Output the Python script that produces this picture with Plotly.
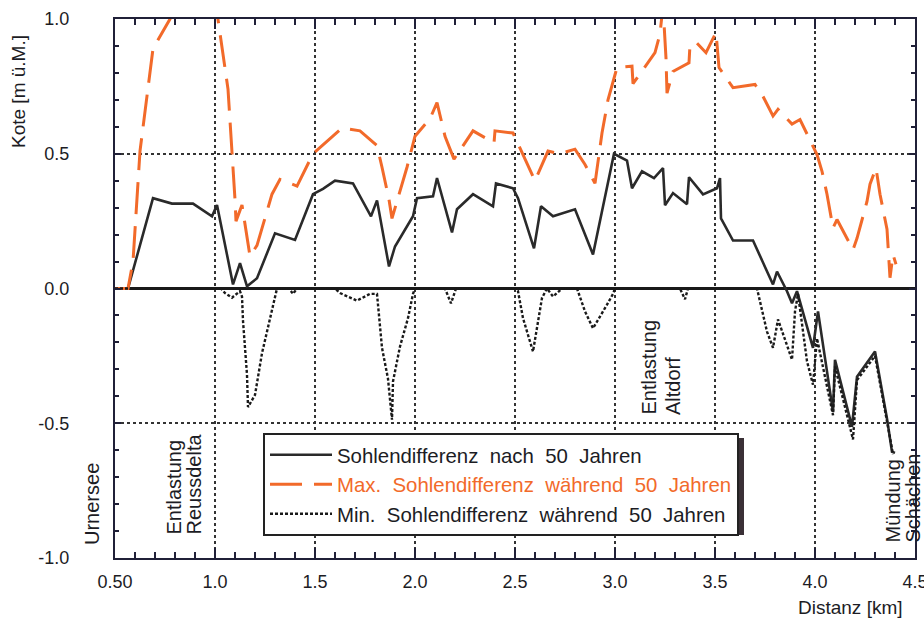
import plotly.graph_objects as go

# ---------------- data ----------------
dist_nach = [0.50, 0.565, 0.69, 0.785, 0.89, 0.985, 1.01, 1.09, 1.125, 1.16, 1.21, 1.30, 1.40,
             1.49, 1.54, 1.60, 1.69, 1.78, 1.81, 1.87, 1.90, 1.99, 2.01, 2.09, 2.11, 2.185,
             2.21, 2.29, 2.39, 2.405, 2.49, 2.515, 2.595, 2.63, 2.69, 2.80, 2.89, 2.96, 2.995,
             3.06, 3.085, 3.135, 3.195, 3.24, 3.25, 3.29, 3.36, 3.37, 3.44, 3.51, 3.525, 3.53,
             3.59, 3.69, 3.79, 3.81, 3.86, 3.885, 3.91, 3.99, 4.015, 4.09, 4.10, 4.185, 4.21,
             4.30, 4.36, 4.385, 4.40]
sohle_nach = [0.0, 0.0, 0.335, 0.315, 0.315, 0.268, 0.31, 0.015, 0.094, 0.008, 0.038, 0.205, 0.18,
              0.35, 0.37, 0.40, 0.39, 0.268, 0.327, 0.082, 0.156, 0.268, 0.335, 0.342, 0.41, 0.208,
              0.294, 0.35, 0.305, 0.39, 0.372, 0.335, 0.149, 0.305, 0.268, 0.294, 0.126, 0.38, 0.50,
              0.475, 0.372, 0.435, 0.41, 0.447, 0.309, 0.354, 0.313, 0.413, 0.349, 0.372, 0.41, 0.26,
              0.178, 0.178, 0.015, 0.063, -0.01, -0.055, -0.01, -0.22, -0.085, -0.457, -0.265, -0.513, -0.327,
              -0.234, -0.483, -0.606, -0.61]

dist_max = [0.50, 0.565, 0.59, 0.625, 0.69, 0.775, 0.85, 0.95, 1.005, 1.065, 1.10, 1.105, 1.135,
            1.16, 1.175, 1.21, 1.285, 1.325, 1.41, 1.49, 1.635, 1.725, 1.81, 1.835, 1.87, 1.885,
            1.935, 1.96, 2.0, 2.075, 2.11, 2.125, 2.15, 2.195, 2.29, 2.395, 2.40, 2.49, 2.565,
            2.60, 2.665, 2.725, 2.80, 2.85, 2.90, 2.935, 2.965, 2.99, 3.01, 3.085, 3.09, 3.20,
            3.225, 3.24, 3.255, 3.26, 3.29, 3.37, 3.375, 3.41, 3.455, 3.505, 3.52, 3.59, 3.70,
            3.735, 3.79, 3.815, 3.885, 3.925, 4.01, 4.035, 4.06, 4.09, 4.11, 4.19, 4.21, 4.26,
            4.275, 4.305, 4.325, 4.36, 4.365, 4.375, 4.39, 4.405]
sohle_max = [0.0, 0.0, 0.10, 0.51, 0.89, 1.0, 1.12, 1.12, 1.05, 0.74, 0.33, 0.25, 0.31,
             0.20, 0.12, 0.16, 0.35, 0.405, 0.38, 0.50, 0.595, 0.585, 0.53, 0.45, 0.33, 0.26,
             0.39, 0.45, 0.565, 0.63, 0.69, 0.645, 0.565, 0.48, 0.585, 0.54, 0.585, 0.577, 0.46,
             0.40, 0.51, 0.50, 0.517, 0.46, 0.39, 0.577, 0.70, 0.77, 0.82, 0.825, 0.76, 0.875,
             0.945, 1.05, 0.855, 0.725, 0.805, 0.837, 0.905, 0.91, 0.875, 0.95, 0.82, 0.745, 0.757,
             0.72, 0.64, 0.665, 0.61, 0.627, 0.497, 0.435, 0.35, 0.224, 0.256, 0.144, 0.186, 0.323,
             0.387, 0.447, 0.35, 0.22, 0.156, 0.04, 0.126, 0.09]

dist_min = [0.50, 1.03, 1.05, 1.085, 1.125, 1.135, 1.14, 1.16, 1.165, 1.20, 1.235, 1.275, 1.30,
            1.31, 1.37, 1.39, 1.41, 1.60, 1.625, 1.71, 1.775, 1.81, 1.835, 1.865, 1.885, 1.89,
            1.925, 1.965, 1.99, 2.0, 2.15, 2.18, 2.205, 2.50, 2.515, 2.54, 2.59, 2.635, 2.66,
            2.69, 2.735, 2.81, 2.85, 2.89, 2.96, 2.99, 3.0, 3.325, 3.35, 3.365, 3.71, 3.76,
            3.79, 3.815, 3.885, 3.90, 3.915, 3.96, 3.99, 4.01, 4.09, 4.10, 4.19, 4.21, 4.30,
            4.36, 4.39]
sohle_min = [0.0, 0.0, -0.017, -0.034, -0.01, -0.03, -0.12, -0.32, -0.44, -0.395, -0.24, -0.11, -0.03,
             0.0, 0.0, -0.02, 0.0, 0.0, -0.017, -0.045, -0.02, -0.02, -0.22, -0.335, -0.487, -0.345,
             -0.215, -0.11, -0.02, 0.0, 0.0, -0.055, 0.0, 0.0, -0.01, -0.11, -0.234, -0.035, 0.0,
             -0.03, 0.0, 0.0, -0.085, -0.148, -0.06, -0.02, 0.0, 0.0, -0.04, 0.0, 0.0, -0.16,
             -0.22, -0.115, -0.264, -0.085, -0.02, -0.27, -0.357, -0.185, -0.47, -0.29, -0.56, -0.34, -0.25,
             -0.50, -0.615]

x_ticks = [0.5, 1.0, 1.5, 2.0, 2.5, 3.0, 3.5, 4.0, 4.5]
x_ticktext = ["0.50", "1.0", "1.5", "2.0", "2.5", "3.0", "3.5", "4.0", "4.5"]
y_ticks = [-1.0, -0.5, 0.0, 0.5, 1.0]
y_ticktext = ["-1.0", "-0.5", "0.0", "0.5", "1.0"]

NB = "\u00a0"
name_nach = f"Sohlendifferenz{NB} nach{NB} 50{NB} Jahren"
name_max = f"<span style='color:#f26a2a'>Max.{NB} Sohlendifferenz{NB} während{NB} 50{NB} Jahren</span>"
name_min = f"Min.{NB} Sohlendifferenz{NB} während{NB} 50{NB} Jahren"

FONT = "Liberation Sans, Arial, sans-serif"
INK = "#1c1c24"
ORANGE = "#f26a2a"

fig = go.Figure()
fig.add_trace(go.Scatter(x=dist_nach, y=sohle_nach, mode="lines", name=name_nach,
                         line=dict(color="#2a2a2a", width=2.6), legendgroup="a"))
fig.add_trace(go.Scatter(x=dist_max, y=sohle_max, mode="lines", name=name_max,
                         line=dict(color=ORANGE, width=3, dash="32px,12px"), legendgroup="b"))
fig.add_trace(go.Scatter(x=dist_min, y=sohle_min, mode="lines", name=name_min,
                         line=dict(color="#1a1a1a", width=2.4, dash="3px,2px"), legendgroup="c"))

L, R, T, B = 115, 9, 19, 60
W, H = 924, 618
pw, ph = W - L - R, H - T - B


def px(xp):
    return (xp - L) / pw


def py(yp):
    return (H - B - yp) / ph


axis_common = dict(showline=True, linecolor="#202038", linewidth=2, mirror="ticks",
                   ticks="inside", tickcolor="#202038", tickwidth=2, automargin=False,
                   showgrid=True, gridcolor="#333333", gridwidth=1.6, griddash="dot",
                   tickfont=dict(family=FONT, size=18, color=INK))

fig.update_xaxes(range=[0.5, 4.5], tickvals=x_ticks, ticktext=x_ticktext, ticklen=10,
                 ticklabelstandoff=6, ticklabeloverflow="allow", zeroline=False,
                 minor=dict(dtick=0.1, tick0=0.5, ticks="inside", ticklen=6,
                            tickcolor="#202038", tickwidth=2, showgrid=False),
                 **axis_common)
fig.update_yaxes(range=[-1.0, 1.0], tickvals=y_ticks, ticktext=y_ticktext, ticklen=6,
                 ticklabelstandoff=40, zeroline=True, zerolinecolor="#1a1a1a", zerolinewidth=2.5,
                 minor=dict(dtick=0.1, tick0=0, ticks="inside", ticklen=4,
                            tickcolor="#202038", tickwidth=2, showgrid=False),
                 **axis_common)

ann_font = dict(family=FONT, size=20, color=INK)
annotations = [
    dict(text="Kote [m ü.M.]", x=px(18), y=py(92), textangle=-90, font=dict(family=FONT, size=19, color=INK),
         xanchor="center", yanchor="middle"),
    dict(text="Distanz [km]", x=px(905), y=py(607), font=dict(family=FONT, size=19, color=INK),
         xanchor="right", yanchor="middle"),
    dict(text="Urnersee", x=px(92), y=py(547), textangle=-90, xanchor="center", yanchor="bottom"),
    dict(text="Entlastung", x=px(173), y=py(537), textangle=-90, xanchor="center", yanchor="bottom"),
    dict(text="Reussdelta", x=px(193), y=py(537), textangle=-90, xanchor="center", yanchor="bottom"),
    dict(text="Entlastung", x=px(648), y=py(417), textangle=-90, xanchor="center", yanchor="bottom"),
    dict(text="Altdorf", x=px(673), y=py(417), textangle=-90, xanchor="center", yanchor="bottom"),
    dict(text="Mündung", x=px(892), y=py(545), textangle=-90, xanchor="center", yanchor="bottom"),
    dict(text="Schächen", x=px(912), y=py(545), textangle=-90, xanchor="center", yanchor="bottom"),
]
for a in annotations:
    a.setdefault("font", ann_font)
    a.update(xref="paper", yref="paper", showarrow=False)

# legend drop shadow
shapes = [dict(type="rect", xref="paper", yref="paper", x0=px(268), x1=px(744), y0=py(535), y1=py(438),
               fillcolor="#3a3036", line=dict(width=0), layer="above")]

fig.update_layout(
    width=W, height=H,
    margin=dict(l=L, r=R, t=T, b=B, autoexpand=False),
    paper_bgcolor="white", plot_bgcolor="white",
    font=dict(family=FONT, color=INK),
    showlegend=True,
    legend=dict(x=px(263), y=py(433), xanchor="left", yanchor="top",
                bgcolor="white", bordercolor="#222222", borderwidth=2,
                font=dict(family=FONT, size=20.4, color=INK),
                itemwidth=62, tracegroupgap=3, traceorder="normal"),
    annotations=annotations,
    shapes=shapes,
)

fig.write_html("out.html", config={"displayModeBar": False},
               post_script="document.body.style.margin='0';document.body.style.overflow='hidden';")
